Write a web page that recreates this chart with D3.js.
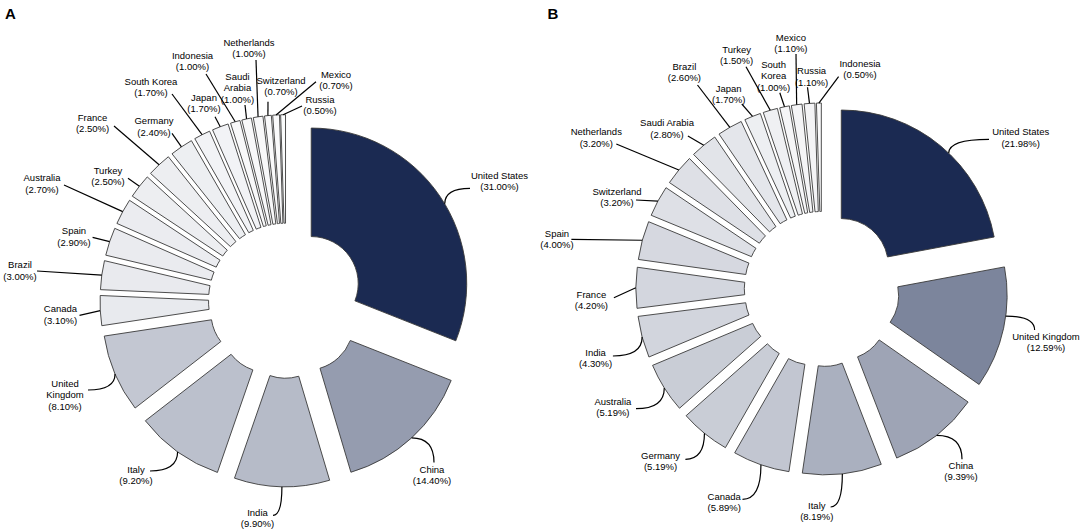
<!DOCTYPE html>
<html>
<head>
<meta charset="utf-8">
<script src="https://cdn.jsdelivr.net/npm/d3@7"></script>
<style>
  html, body { margin: 0; padding: 0; background: #ffffff; }
  svg { display: block; }
  text { font-family: "Liberation Sans", Arial, sans-serif; }
</style>
</head>
<body>
<svg id="chart" width="1084" height="532"></svg>
<script>
// ---------------- DATA ----------------
const countriesA = ["United States", "China", "India", "Italy", "United Kingdom", "Canada", "Brazil", "Spain",
  "Australia", "Turkey", "France", "Germany", "South Korea", "Japan", "Indonesia", "Saudi Arabia",
  "Netherlands", "Switzerland", "Mexico", "Russia"];
const valuesA = [31.00, 14.40, 9.90, 9.20, 8.10, 3.10, 3.00, 2.90, 2.70, 2.50, 2.50, 2.40, 1.70, 1.70,
  1.00, 1.00, 1.00, 0.70, 0.70, 0.50];

const countriesB = ["United States", "United Kingdom", "China", "Italy", "Canada", "Germany", "Australia",
  "India", "France", "Spain", "Switzerland", "Netherlands", "Saudi Arabia", "Brazil", "Japan", "Turkey",
  "South Korea", "Mexico", "Russia", "Indonesia"];
const valuesB = [21.98, 12.59, 9.39, 8.19, 5.89, 5.19, 5.19, 4.30, 4.20, 4.00, 3.20, 3.20, 2.80, 2.60,
  1.70, 1.50, 1.00, 1.10, 1.10, 0.50];

const panelLabels = ["A", "B"];

// ---------------- LAYOUT (annotation placement) ----------------
// text: centre of first text line; end: leader end near the text; kind: straight | h | v
// at: where on the slice's outer arc the leader starts (fraction of the slice's angle)
const labelLayoutA = {
  "United States": {text: [499.5, 175], end: [470, 188.3], kind: "h", at: 0.53},
  "China": {text: [432, 469.3], end: [434, 462.5], kind: "v"},
  "India": {text: [257.5, 512], end: [273, 515.3], kind: "h"},
  "Italy": {text: [136, 469.3], end: [150, 471], kind: "h"},
  "United Kingdom": {text: [65, 383.3], end: [88, 390], kind: "h", wrap: ["United", "Kingdom"]},
  "Canada": {text: [60.5, 308.7], end: [79.5, 315.3], kind: "straight"},
  "Brazil": {text: [20, 264.5], end: [37, 271], kind: "straight"},
  "Spain": {text: [74, 230.7], end: [92.6, 237.3], kind: "straight"},
  "Australia": {text: [42, 177.7], end: [64, 185], kind: "straight"},
  "Turkey": {text: [108, 170], end: [128, 178.3], kind: "straight"},
  "France": {text: [92.6, 117.3], end: [114, 126], kind: "straight"},
  "Germany": {text: [154, 120.7], end: [172, 133.3], kind: "straight"},
  "South Korea": {text: [151, 81], end: [172, 94], kind: "straight"},
  "Japan": {text: [204, 97.3], end: [215, 116.7], kind: "straight"},
  "Indonesia": {text: [192.5, 55], end: [206, 74], kind: "straight"},
  "Saudi Arabia": {text: [237.5, 76], end: [245, 105], kind: "straight", wrap: ["Saudi", "Arabia"]},
  "Netherlands": {text: [249, 42.3], end: [256, 60], kind: "straight"},
  "Switzerland": {text: [281, 80], end: [268, 101.7], kind: "straight"},
  "Mexico": {text: [336, 74], end: [316, 81.7], kind: "straight"},
  "Russia": {text: [320, 99], end: [302, 106], kind: "straight"}
};
const labelLayoutB = {
  "United States": {text: [1020.7, 131.7], end: [989, 139.3], kind: "h", at: 0.55},
  "United Kingdom": {text: [1046, 336], end: [1034.6, 330], kind: "v", at: 0.40},
  "China": {text: [961, 465.3], end: [962, 459.3], kind: "v"},
  "Italy": {text: [816.8, 505.3], end: [830.6, 507], kind: "h"},
  "Canada": {text: [724.2, 496], end: [742.5, 499.3], kind: "h"},
  "Germany": {text: [660.6, 455.3], end: [685.4, 459.3], kind: "h"},
  "Australia": {text: [612.9, 401], end: [636, 408.7], kind: "h"},
  "India": {text: [595.6, 352], end: [612.9, 356], kind: "h"},
  "France": {text: [591.4, 294.3], end: [613.9, 297.7], kind: "straight"},
  "Spain": {text: [557, 233.3], end: [571.4, 239.3], kind: "straight"},
  "Switzerland": {text: [617, 191], end: [636, 200], kind: "straight"},
  "Netherlands": {text: [596.3, 131.7], end: [616.3, 144], kind: "straight"},
  "Saudi Arabia": {text: [667, 122.7], end: [687.9, 136], kind: "straight"},
  "Brazil": {text: [684.4, 66], end: [697.5, 85], kind: "straight"},
  "Japan": {text: [728.7, 88.3], end: [741.8, 104], kind: "straight"},
  "Turkey": {text: [736.6, 49.3], end: [746, 66.7], kind: "straight"},
  "South Korea": {text: [773.6, 64.3], end: [779.8, 92.7], kind: "straight", wrap: ["South", "Korea"]},
  "Mexico": {text: [790.9, 37.3], end: [796, 54], kind: "straight"},
  "Russia": {text: [811.6, 70.7], end: [807.5, 87.3], kind: "straight"},
  "Indonesia": {text: [860, 63.3], end: [838.6, 76.7], kind: "straight"}
};

const svg = d3.select("#chart");
const innerR = 47, outerR = 155.5, explode = 30.5;
const navy = "#1b2a52";
const lineH = 11.5;

function drawDonut(names, values, center, layout, panel, panelPos) {
  const g = svg.append("g");
  const color = d3.scaleLinear().domain([0, d3.max(values)])
    .range(["#ffffff", navy]).interpolate(d3.interpolateRgb);
  const pie = d3.pie().sort(null).value(d => d.v).startAngle(0).endAngle(2 * Math.PI);
  const arc = d3.arc().innerRadius(innerR).outerRadius(outerR);
  const data = pie(names.map((n, i) => ({name: n, v: values[i]})));

  const slices = g.append("g");
  data.forEach(s => {
    const mid = (s.startAngle + s.endAngle) / 2;
    const ox = center[0] + Math.sin(mid) * explode;
    const oy = center[1] - Math.cos(mid) * explode;
    s.ox = ox; s.oy = oy;
    slices.append("path")
      .attr("d", arc(s))
      .attr("transform", `translate(${ox},${oy})`)
      .attr("fill", color(s.data.v))
      .attr("stroke", "#3a3a3a")
      .attr("stroke-width", 0.9)
      .attr("stroke-linejoin", "miter");
  });

  const leaders = g.append("g");
  const labels = g.append("g");
  data.forEach(s => {
    const L = layout[s.data.name];
    if (!L) return;
    const f = L.at !== undefined ? L.at : 0.5;
    const a = s.startAngle + (s.endAngle - s.startAngle) * f;
    const p0 = [s.ox + Math.sin(a) * outerR, s.oy - Math.cos(a) * outerR];
    const e = L.end;
    let d;
    if (L.kind === "straight") {
      d = `M${p0[0]},${p0[1]}L${e[0]},${e[1]}`;
    } else if (L.kind === "h") {
      d = `M${p0[0]},${p0[1]}Q${p0[0]},${e[1]} ${e[0]},${e[1]}`;
    } else {
      d = `M${p0[0]},${p0[1]}Q${e[0]},${p0[1]} ${e[0]},${e[1]}`;
    }
    leaders.append("path").attr("d", d).attr("fill", "none")
      .attr("stroke", "#000").attr("stroke-width", 1.2);

    const lines = (L.wrap ? L.wrap : [s.data.name]).concat([`(${s.data.v.toFixed(2)}%)`]);
    const t = labels.append("text")
      .attr("x", L.text[0]).attr("y", L.text[1])
      .attr("text-anchor", "middle")
      .attr("font-size", 9.5)
      .attr("fill", "#000");
    lines.forEach((ln, i) => {
      t.append("tspan").attr("x", L.text[0]).attr("y", L.text[1] + i * lineH)
        .attr("dominant-baseline", "central").text(ln);
    });
  });

  svg.append("text").attr("x", panelPos[0]).attr("y", panelPos[1])
    .attr("font-size", 15).attr("font-weight", "bold")
    .attr("dominant-baseline", "central")
    .attr("text-anchor", "middle")
    .text(panel);
}

drawDonut(countriesA, valuesA, [286, 300.7], labelLayoutA, panelLabels[0], [10.5, 13]);
drawDonut(countriesB, valuesB, [821.8, 289], labelLayoutB, panelLabels[1], [553, 13]);
</script>
</body>
</html>
